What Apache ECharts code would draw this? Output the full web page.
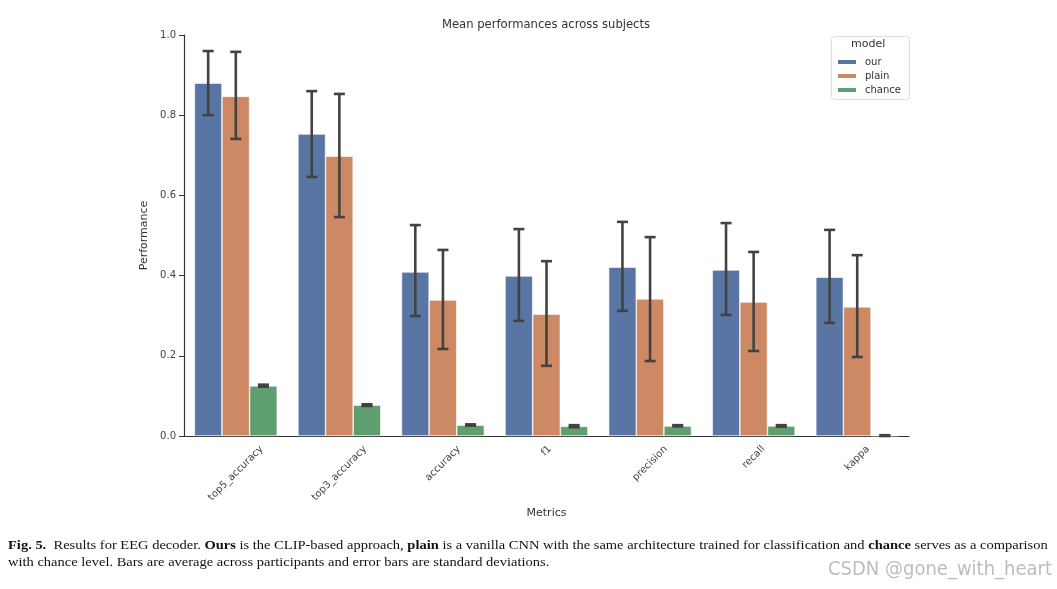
<!DOCTYPE html>
<html><head><meta charset="utf-8">
<script src="https://cdn.jsdelivr.net/npm/echarts@6/dist/echarts.min.js"></script>
<style>html,body{margin:0;padding:0;background:#fff}#c{width:1057px;height:589px}</style>
</head><body><div id="c"></div>
<script>
const categories = ['top5_accuracy','top3_accuracy','accuracy','f1','precision','recall','kappa'];
const models = ['our','plain','chance'];
const ourMean   = [0.880, 0.753, 0.409, 0.399, 0.421, 0.414, 0.396];
const ourLow    = [0.800, 0.646, 0.299, 0.287, 0.312, 0.302, 0.282];
const ourHigh   = [0.960, 0.860, 0.526, 0.516, 0.534, 0.531, 0.514];
const plainMean = [0.847, 0.698, 0.339, 0.304, 0.342, 0.334, 0.322];
const plainLow  = [0.741, 0.546, 0.217, 0.175, 0.187, 0.212, 0.197];
const plainHigh = [0.958, 0.853, 0.464, 0.436, 0.496, 0.459, 0.451];
const chanceMean= [0.125, 0.077, 0.027, 0.024, 0.025, 0.025, 0.001];
const chanceLow = [0.123, 0.075, 0.026, 0.022, 0.024, 0.023, 0.000];
const chanceHigh= [0.128, 0.079, 0.029, 0.027, 0.027, 0.027, 0.002];
const yTicks = [0.0, 0.2, 0.4, 0.6, 0.8, 1.0];

const colors = ['#5975a4','#cc8963','#5f9e6e'];
const means = [ourMean, plainMean, chanceMean];
const lows = [ourLow, plainLow, chanceLow];
const highs = [ourHigh, plainHigh, chanceHigh];

const labelFont = '10px "DejaVu Sans"';
const mctx = document.createElement('canvas').getContext('2d');
mctx.font = labelFont;

const chart = echarts.init(document.getElementById('c'));
const series = [];
models.forEach((m, i) => {
  series.push({
    name: m, type: 'bar', data: means[i], barGap: '0%', barCategoryGap: '20%',
    itemStyle: { color: colors[i], borderColor: '#ffffff', borderWidth: 0.6 },
    z: 2
  });
});
models.forEach((m, i) => {
  series.push({
    type: 'custom', name: m + '_err', z: 5, silent: true,
    data: categories.map((c, k) => [k, lows[i][k], highs[i][k]]),
    renderItem: function (params, api) {
      const k = api.value(0);
      const band = api.size([1, 0])[0];
      const barW = band * 0.8 / 3;
      const off = (i - 1) * barW;
      const lo = api.coord([k, api.value(1)]);
      const hi = api.coord([k, api.value(2)]);
      const x = lo[0] + off;
      const cap = barW * 0.2;
      const st = { stroke: '#424242', lineWidth: 2.6 };
      return { type: 'group', children: [
        { type: 'line', shape: { x1: x, y1: lo[1], x2: x, y2: hi[1] }, style: st },
        { type: 'line', shape: { x1: x - cap, y1: lo[1], x2: x + cap, y2: lo[1] }, style: st },
        { type: 'line', shape: { x1: x - cap, y1: hi[1], x2: x + cap, y2: hi[1] }, style: st }
      ]};
    }
  });
});
// rotated tick labels, bounding box centred under each tick
series.push({
  type: 'custom', name: 'ticklabels', silent: true, z: 6, clip: false,
  data: categories.map((c, k) => [k, 0]),
  renderItem: function (params, api) {
    const k = api.value(0);
    const p = api.coord([k, 0]);
    const txt = categories[k];
    const w = mctx.measureText(txt).width;
    const bh = (w + 10) * Math.SQRT1_2;
    return { type: 'text', x: p[0], y: p[1] + 8 + bh / 2, rotation: Math.PI / 4,
      style: { text: txt, font: labelFont, fill: '#444', align: 'center', verticalAlign: 'middle' } };
  }
});

const serif = '"Liberation Serif","DejaVu Serif",serif';
chart.setOption({
  animation: false,
  title: { text: 'Mean performances across subjects', left: 541, top: 14, textAlign: 'center',
    textStyle: { fontFamily: 'DejaVu Sans', fontSize: 11.6, fontWeight: 'normal', color: '#333' } },
  grid: { left: 184, right: 148, top: 35, bottom: 153 },
  legend: {
    data: models, orient: 'vertical', left: 831, top: 52, itemWidth: 20, itemHeight: 6, itemGap: 4,
    icon: 'rect', textStyle: { fontFamily: 'DejaVu Sans', fontSize: 10, color: '#333', padding: [0, 0, 0, 3] }
  },
  xAxis: {
    type: 'category', data: categories, name: 'Metrics', nameLocation: 'middle', nameGap: 72,
    nameTextStyle: { fontFamily: 'DejaVu Sans', fontSize: 11, color: '#333' },
    axisLine: { lineStyle: { color: '#333', width: 1.2 } },
    axisTick: { alignWithLabel: true, length: 5, lineStyle: { color: '#333' } },
    axisLabel: { show: false }
  },
  yAxis: {
    type: 'value', min: 0, max: 1, interval: 0.2, name: 'Performance', nameLocation: 'middle', nameGap: 27,
    nameTextStyle: { fontFamily: 'DejaVu Sans', fontSize: 11, color: '#333' },
    splitLine: { show: false },
    axisLine: { show: true, lineStyle: { color: '#333', width: 1.2 } },
    axisTick: { show: true, length: 5, lineStyle: { color: '#333' } },
    axisLabel: { fontFamily: 'DejaVu Sans', fontSize: 10, color: '#444', margin: 8,
      formatter: v => yTicks.find(t => Math.abs(t - v) < 1e-9).toFixed(1) }
  },
  graphic: [
    { type: 'rect', left: 831, top: 36, shape: { width: 78, height: 63, r: 3 },
      style: { fill: '#fff', stroke: '#ddd', lineWidth: 1 }, z: 0 },
    { type: 'text', left: 851, top: 39, style: { text: 'model', fontFamily: 'DejaVu Sans', fontSize: 11, fill: '#333' } },
    { type: 'text', x: 8, y: 539, scaleX: 1.115, style: {
      text: '{b|Fig. 5.}  Results for EEG decoder. {b|Ours} is the CLIP-based approach, {b|plain} is a vanilla CNN with the same architecture trained for classification and {b|chance} serves as a comparison',
      fontFamily: serif, fontSize: 13, fill: '#111',
      rich: { b: { fontFamily: serif, fontSize: 13, fontWeight: 'bold', fill: '#111' } } } },
    { type: 'text', x: 8, y: 556, scaleX: 1.115, style: {
      text: 'with chance level. Bars are average across participants and error bars are standard deviations.',
      fontFamily: serif, fontSize: 13, fill: '#111' } },
    { type: 'text', right: 5, top: 560, style: { text: 'CSDN @gone_with_heart',
      fontFamily: '"Liberation Sans Narrow","DejaVu Sans Condensed",sans-serif', fontSize: 20, fill: '#bdbdbd' } }
  ],
  series: series
});
</script></body></html>
